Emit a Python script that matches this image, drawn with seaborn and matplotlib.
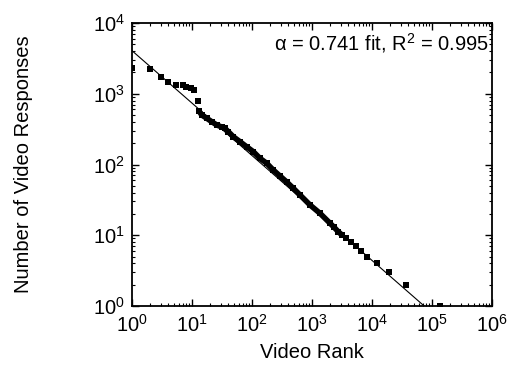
import matplotlib
matplotlib.use("Agg")
import matplotlib.pyplot as plt
import seaborn as sns
import numpy as np
import pandas as pd
from matplotlib.ticker import LogLocator

# Head of the rank distribution: individually visible markers
head_rank = [1, 2, 3, 4, 5.5, 7, 8, 9.5, 11, 12.4]
head_resp = [2290, 2217, 1708, 1452, 1318, 1318, 1245, 1194, 1141, 798]

# Body: densely packed markers forming a continuous band
body_rank = [13.1, 14.5, 17.6, 21.3, 25.8, 31.3, 35.5, 40.3, 48.8, 63.1,
             81.6, 105, 136, 176, 226, 293, 379, 488, 631, 926,
             1360, 1995, 2326, 2744, 3200]
body_resp = [570, 501, 450, 403, 362, 339, 323, 291, 247, 210,
             178, 152, 122, 104, 83.6, 68.7, 56.6, 46.1, 37.1, 26.8,
             20.4, 14.8, 13, 11.2, 10]

# Tail: small integer response counts
tail_rank = [3690, 4415, 5350, 6460, 8330, 12250, 19400, 37300, 137500]
tail_resp = [9, 8, 7, 6, 5, 4, 3, 2, 1]

# Power-law fit parameters
alpha = 0.741
r2 = 0.995
fit_c = 4060

sns.set_style("ticks")
plt.rcParams["font.family"] = ["Liberation Sans", "DejaVu Sans"]
plt.rcParams["mathtext.default"] = "regular"
plt.rcParams["xtick.direction"] = "in"
plt.rcParams["ytick.direction"] = "in"
for key in ["text.color", "axes.labelcolor", "xtick.color", "ytick.color",
            "axes.edgecolor"]:
    plt.rcParams[key] = "black"

fig = plt.figure(figsize=(5.10, 3.67), dpi=100)
ax = fig.add_axes([132 / 510, 61 / 367, 360 / 510, 283 / 367])

points = pd.DataFrame({
    "rank": head_rank + body_rank + tail_rank,
    "resp": head_resp + body_resp + tail_resp,
})
body = pd.DataFrame({"rank": body_rank, "resp": body_resp})

fit_x = np.logspace(0, 6, 200)
fit = pd.DataFrame({"rank": fit_x, "resp": fit_c * fit_x ** (-alpha)})

sns.lineplot(data=fit, x="rank", y="resp", ax=ax, color="black", lw=0.8,
             zorder=3)
sns.lineplot(data=body, x="rank", y="resp", ax=ax, color="black", lw=4.0,
             zorder=2, sort=False, estimator=None)
sns.scatterplot(data=points, x="rank", y="resp", ax=ax, color="black",
                marker="s", s=20, linewidth=0, zorder=2)

ax.set_xscale("log")
ax.set_yscale("log")
ax.set_xlim(1, 1e6)
ax.set_ylim(1, 1e4)
ax.xaxis.set_major_locator(LogLocator(base=10, numticks=10))
ax.yaxis.set_major_locator(LogLocator(base=10, numticks=10))
ax.xaxis.set_minor_locator(LogLocator(base=10, subs=np.arange(2, 10), numticks=20))
ax.yaxis.set_minor_locator(LogLocator(base=10, subs=np.arange(2, 10), numticks=20))

ax.tick_params(which="major", length=5, width=1.0, top=True, right=True,
               labelsize=14.5)
ax.tick_params(axis="x", which="major", pad=6)
ax.tick_params(axis="y", which="major", pad=5)
ax.tick_params(which="minor", length=2.5, width=0.8, top=True, right=True)
for sp in ax.spines.values():
    sp.set_linewidth(1.3)
    sp.set_visible(True)

ax.set_xlabel("Video Rank", fontsize=14.5, labelpad=5)
ax.set_ylabel("Number of Video Responses", fontsize=14.5, labelpad=43)

ax.text(0.992, 0.905, f"α = {alpha} fit, R$^2$ = {r2}", transform=ax.transAxes,
        ha="right", va="baseline", fontsize=14.5)

fig.savefig("out.png", dpi=100)
